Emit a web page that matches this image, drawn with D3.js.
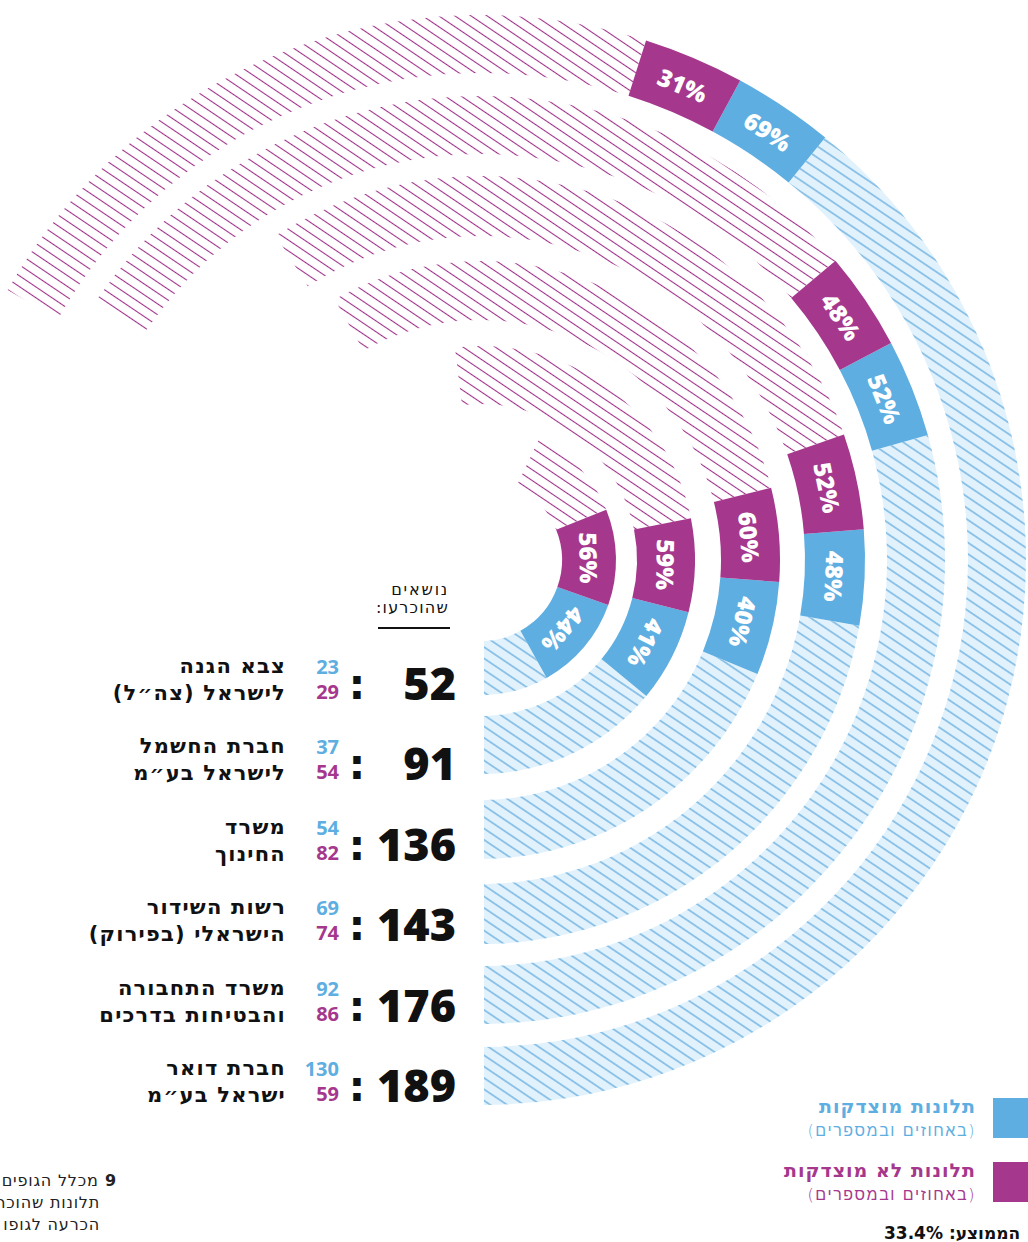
<!DOCTYPE html>
<html lang="he">
<head>
<meta charset="utf-8">
<script src="https://cdn.jsdelivr.net/npm/d3@7"></script>
<style>
  html, body { margin: 0; padding: 0; background: #fff; }
  svg { display: block; }
  text { font-family: "DejaVu Sans", sans-serif; }
  .num { font-family: "Open Sans", "DejaVu Sans", sans-serif; }
</style>
</head>
<body>
<svg id="chart" width="1028" height="1242"></svg>
<script>
// ---- data ----
const orgLine1 = ['צבא הגנה', 'חברת החשמל', 'משרד', 'רשות השידור', 'משרד התחבורה', 'חברת דואר'];
const orgLine2 = ['לישראל (צה״ל)', 'לישראל בע״מ', 'החינוך', 'הישראלי (בפירוק)', 'והבטיחות בדרכים', 'ישראל בע״מ'];
const justified   = [23, 37, 54, 69, 92, 130];   // תלונות מוצדקות
const unjustified = [29, 54, 82, 74, 86, 59];    // תלונות לא מוצדקות
const totals      = [52, 91, 136, 143, 176, 189]; // נושאים שהוכרעו (as printed)
const average     = '33.4%';

// ---- layout ----
// angles in degrees, measured from "straight down" and turning through the right side
const splitDeg = [70.5, 75.9, 85.8, 94.6, 117.9, 151.6];
const endDeg   = [154.3, 187, 209.3, 212.3, 235.6, 240.3];
const ringInner = [81, 156, 240, 324, 406, 487];
const ringOuter = [135, 214, 299, 384, 464, 545];
const CX = 481, CY = 560;

const BLUE = '#5eaee1', PURPLE = '#a5388c', LIGHT = '#e2f2fc', HBLUE = '#5aa7dc', HPURPLE = '#9e3088';

const svg = d3.select('#chart');
const defs = svg.append('defs');

// hatch patterns
const pb = defs.append('pattern').attr('id', 'hatchBlue').attr('patternUnits', 'userSpaceOnUse')
  .attr('width', 20).attr('height', 9.4).attr('patternTransform', 'rotate(34)');
pb.append('rect').attr('width', 20).attr('height', 9.4).attr('fill', LIGHT);
pb.append('line').attr('x1', 0).attr('x2', 20).attr('y1', 4.7).attr('y2', 4.7)
  .attr('stroke', HBLUE).attr('stroke-width', 1.2);

const pp = defs.append('pattern').attr('id', 'hatchPurple').attr('patternUnits', 'userSpaceOnUse')
  .attr('width', 20).attr('height', 9).attr('patternTransform', 'rotate(34)');
pp.append('line').attr('x1', 0).attr('x2', 20).attr('y1', 4.5).attr('y2', 4.5)
  .attr('stroke', HPURPLE).attr('stroke-width', 1.1);

defs.append('clipPath').attr('id', 'cutLeft')
  .append('rect').attr('x', 484).attr('y', 0).attr('width', 600).attr('height', 1300);

const idx = d3.range(justified.length);
const labelLen = d3.scaleLinear().domain([0, 5]).range([78, 97]); // arc length of the solid blocks
const rowY = d3.scaleLinear().domain([0, 5]).range([684, 1086]);

const rad = d => d * Math.PI / 180;
const toA = deg => Math.PI - rad(deg);   // to d3.arc angle (0 = up, clockwise)

const rings = idx.map(i => {
  const share = justified[i] / (justified[i] + unjustified[i]);
  const bluePct = Math.round(share * 100);
  const rIn = ringInner[i], rOut = ringOuter[i], rMid = (rIn + rOut) / 2;
  const ang = d3.scaleLinear().domain([0, share, 1]).range([-10, splitDeg[i], endDeg[i]]);
  const split = ang(share);
  const dSolid = labelLen(i) / rMid * 180 / Math.PI;
  return {
    i, rIn, rOut, rMid,
    bluePct, purplePct: 100 - bluePct,
    blueHatch: [ang(0), split - dSolid],
    blueSolid: [split - dSolid, split],
    purpleSolid: [split, split + dSolid],
    purpleHatch: [split + dSolid, ang(1)]
  };
});

const arc = d3.arc();
const arcD = (r, seg) => arc({ innerRadius: r.rIn, outerRadius: r.rOut,
  startAngle: toA(seg[0]), endAngle: toA(seg[1]) });

const ringsG = svg.append('g').attr('class', 'rings');

ringsG.append('g').attr('clip-path', 'url(#cutLeft)')
  .append('g').attr('transform', `translate(${CX},${CY})`)
  .selectAll('path').data(rings).enter().append('path')
  .attr('d', d => arcD(d, d.blueHatch))
  .attr('fill', 'url(#hatchBlue)');

const centre = ringsG.append('g').attr('transform', `translate(${CX},${CY})`);

centre.append('g').selectAll('path').data(rings).enter().append('path')
  .attr('d', d => arcD(d, d.purpleHatch))
  .attr('fill', 'url(#hatchPurple)');

const solids = [];
rings.forEach(r => {
  solids.push({ r, seg: r.blueSolid, fill: BLUE, label: r.bluePct + '%' });
  solids.push({ r, seg: r.purpleSolid, fill: PURPLE, label: r.purplePct + '%' });
});

const sg = centre.append('g').selectAll('g').data(solids).enter().append('g');
sg.append('path').attr('d', d => arcD(d.r, d.seg)).attr('fill', d => d.fill);
sg.append('text').attr('class', 'num')
  .attr('transform', d => {
    const a = toA((d.seg[0] + d.seg[1]) / 2);
    const x = d.r.rMid * Math.sin(a), y = -d.r.rMid * Math.cos(a);
    return `translate(${x},${y}) rotate(${a * 180 / Math.PI})`;
  })
  .attr('text-anchor', 'middle').attr('dominant-baseline', 'central')
  .attr('fill', '#fff').attr('font-size', 24).attr('font-weight', 800)
  .text(d => d.label);

// ---- table on the left ----
const tbl = svg.append('g').attr('class', 'table');
tbl.append('text').attr('x', 449).attr('y', 595).attr('direction', 'rtl').attr('text-anchor', 'start')
  .attr('font-size', 16).attr('letter-spacing', 1.8).attr('fill', '#111').text('נושאים');
tbl.append('text').attr('x', 449).attr('y', 613).attr('direction', 'rtl').attr('text-anchor', 'start')
  .attr('font-size', 16).attr('letter-spacing', 1.2).attr('fill', '#111').text('שהוכרעו:');
tbl.append('line').attr('x1', 378).attr('x2', 450).attr('y1', 628).attr('y2', 628)
  .attr('stroke', '#111').attr('stroke-width', 2);

const rows = tbl.selectAll('g.row').data(idx).enter().append('g').attr('class', 'row');
rows.append('text').attr('class', 'num').attr('x', 456).attr('y', i => rowY(i) + 16)
  .attr('text-anchor', 'end').attr('font-size', 45).attr('font-weight', 800).attr('fill', '#111')
  .text(i => totals[i]);
rows.append('text').attr('x', 357).attr('y', i => rowY(i) + 15)
  .attr('text-anchor', 'middle').attr('font-size', 42).attr('font-weight', 900).attr('fill', '#111')
  .text(':');
rows.append('text').attr('class', 'num').attr('x', 339).attr('y', i => rowY(i) - 10)
  .attr('text-anchor', 'end').attr('font-size', 20).attr('font-weight', 700).attr('fill', BLUE)
  .text(i => justified[i]);
rows.append('text').attr('class', 'num').attr('x', 339).attr('y', i => rowY(i) + 15)
  .attr('text-anchor', 'end').attr('font-size', 20).attr('font-weight', 700).attr('fill', PURPLE)
  .text(i => unjustified[i]);
rows.append('text').attr('x', 286).attr('y', i => rowY(i) - 11)
  .attr('direction', 'rtl').attr('text-anchor', 'start').attr('letter-spacing', 1.2)
  .attr('font-size', 21).attr('font-weight', 700).attr('fill', '#111')
  .text(i => orgLine1[i]);
rows.append('text').attr('x', 286).attr('y', i => rowY(i) + 16)
  .attr('direction', 'rtl').attr('text-anchor', 'start').attr('letter-spacing', 1.2)
  .attr('font-size', 21).attr('font-weight', 700).attr('fill', '#111')
  .text(i => orgLine2[i]);

// ---- legend ----
const legend = [
  { title: 'תלונות מוצדקות', color: BLUE, y: 1098 },
  { title: 'תלונות לא מוצדקות', color: PURPLE, y: 1162 }
];
const lg = svg.append('g').selectAll('g').data(legend).enter().append('g');
lg.append('rect').attr('x', 993).attr('y', d => d.y).attr('width', 40).attr('height', 40).attr('fill', d => d.color);
lg.append('text').attr('x', 976).attr('y', d => d.y + 15).attr('direction', 'rtl').attr('text-anchor', 'start')
  .attr('font-size', 19).attr('font-weight', 700).attr('letter-spacing', 1).attr('fill', d => d.color)
  .text(d => d.title);
lg.append('text').attr('x', 976).attr('y', d => d.y + 38).attr('direction', 'rtl').attr('text-anchor', 'start')
  .attr('font-size', 16).attr('font-weight', 300).attr('letter-spacing', 1.6).attr('fill', d => d.color)
  .text('(באחוזים ובמספרים)');

svg.append('text').attr('x', 884).attr('y', 1239).attr('direction', 'rtl').attr('text-anchor', 'end')
  .attr('font-size', 17).attr('font-weight', 700).attr('fill', '#111')
  .text('הממוצע: ' + average);

// ---- footnote (cut by the left edge, as in the original) ----
const note = svg.append('g').attr('font-size', 16).attr('fill', '#222').attr('letter-spacing', 0.8);
const n1 = note.append('text').attr('x', 117).attr('y', 1186).attr('direction', 'rtl').attr('text-anchor', 'start');
n1.append('tspan').attr('font-weight', 700).text('9 ');
n1.append('tspan').text('מכלל הגופים שנבדקו');
note.append('text').attr('x', 100).attr('y', 1208).attr('direction', 'rtl').attr('text-anchor', 'start')
  .text('תלונות שהוכרעו בעניינם');
note.append('text').attr('x', 100).attr('y', 1230).attr('direction', 'rtl').attr('text-anchor', 'start')
  .text('הכרעה לגופו של עניין');
</script>
</body>
</html>
